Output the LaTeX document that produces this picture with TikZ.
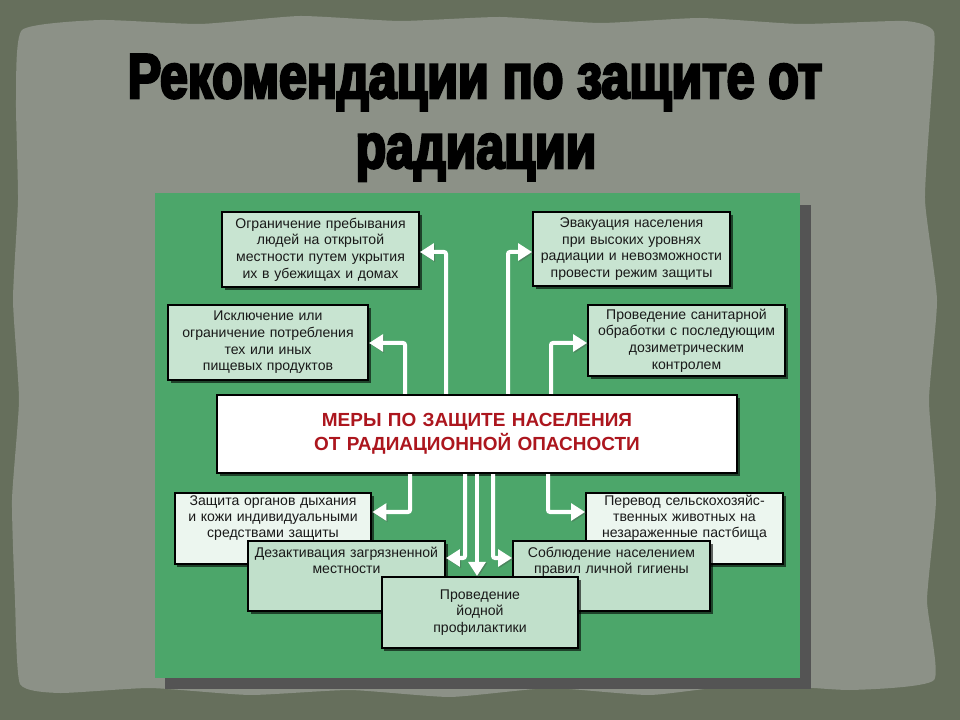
\documentclass[tikz,border=0pt]{standalone}
\usepackage{fontspec}
\setmainfont{Liberation Sans}
\newfontfamily\titlefont{Liberation Sans}[UprightFont=* Bold, FakeStretch=0.79, FakeBold=4]
\usepackage{tikz}
\usetikzlibrary{arrows.meta,shadows}
\usetikzlibrary{positioning}

\definecolor{outerbg}{RGB}{102,111,92}
\definecolor{paper}{RGB}{140,145,135}
\definecolor{panel}{RGB}{76,166,106}
\definecolor{panelshadow}{RGB}{84,84,84}
\definecolor{boxmid}{RGB}{200,228,209}
\definecolor{boxpale}{RGB}{236,246,239}
\definecolor{boxlow}{RGB}{193,224,203}
\definecolor{redtext}{RGB}{172,22,30}

\begin{document}
\begin{tikzpicture}[x=0.025cm, y=-0.025cm,
  box/.style={draw=black, line width=0.05cm, fill=boxmid, align=center,
    inner sep=0.1cm, text width=4.72cm, minimum width=4.92cm,
    font=\fontsize{10}{11.8}\selectfont, text=black!90,
    drop shadow={shadow xshift=0.07cm, shadow yshift=-0.07cm, fill=black, opacity=0.6}},
  toptext/.style 2 args={text height=#1, text depth=#2},
  conn/.style={draw=white, line width=0.1cm, rounded corners=0.05cm,
    -{Triangle[length=0.35cm, width=0.42cm]},
    preaction={draw=black!70, opacity=0.35, transform canvas={shift={(0.03cm,-0.03cm)}}}}
]
  \useasboundingbox (0,0) rectangle (960,720);
  % Background and torn paper
  \fill[outerbg] (0,0) rectangle (960,720);
  \fill[paper] plot[smooth cycle, tension=0.3] coordinates {
    (22,30) (100,20) (200,24) (300,16) (400,21) (500,17) (600,23) (700,18)
    (800,24) (905,21) (934,32) (931,100) (925,200) (937,300) (929,400)
    (936,500) (927,600) (934,680) (850,690) (750,684) (650,695) (550,688)
    (450,697) (350,690) (250,695) (150,688) (60,693) (20,684) (15,600)
    (12,500) (19,400) (13,300) (18,200) (16,100)};

  % Title
  \node[font=\titlefont\fontsize{45}{46}\selectfont, anchor=base] (title1) at (475,98) {Рекомендации по защите от};
  \node[font=\titlefont\fontsize{45}{46}\selectfont, anchor=base] (title2) at (476,168) {радиации};

  % Green panel
  \fill[panelshadow] (165,205) rectangle (811,689);
  \fill[panel] (155,193) rectangle (800,678);

  % Upper boxes
  \node[box, minimum height=1.875cm] (ogr) at (320.5,249.5)
    {Ограничение пребывания\\людей на открытой\\местности путем укрытия\\их в убежищах и домах};
  \node[box, minimum height=1.875cm, text width=4.8cm, minimum width=5cm] (isk) at (268,342.5)
    {Исключение или\\ограничение потребления\\тех или иных\\пищевых продуктов};
  \node[box, minimum height=1.85cm] (evak) at (631.5,249)
    {Эвакуация населения\\при высоких уровнях\\радиации и невозможности\\провести режим защиты};
  \node[box, minimum height=1.78cm] (sanit) at (686.5,340.5)
    {Проведение санитарной\\обработки с последующим\\дозиметрическим\\контролем};

  % Central box
  \node[box, fill=white, text width=12.8cm, minimum width=13cm, minimum height=1.95cm,
    font=\bfseries\fontsize{13.5}{17}\selectfont, text=redtext] (mery) at (477,434)
    {МЕРЫ ПО ЗАЩИТЕ НАСЕЛЕНИЯ\\ОТ РАДИАЦИОННОЙ ОПАСНОСТИ};

  % Lower boxes, back to front
  \node[box, fill=boxpale, toptext={0.22cm}{1.355cm}, anchor=north,
    font=\fontsize{10}{11.1}\selectfont] (zashch) at (273,492)
    {Защита органов дыхания\\и кожи индивидуальными\\средствами защиты};
  \node[box, fill=boxpale, toptext={0.22cm}{1.355cm}, anchor=north,
    font=\fontsize{10}{11.1}\selectfont] (perevod) at (684.5,492)
    {Перевод сельскохозяйс-\\твенных животных на\\незараженные пастбища};
  \node[box, fill=boxlow, toptext={0.3cm}{1.25cm}, anchor=north] (dezakt) at (346.5,540)
    {Дезактивация загрязненной\\местности};
  \node[box, fill=boxlow, toptext={0.3cm}{1.25cm}, anchor=north] (gigiena) at (611.5,540)
    {Соблюдение населением\\правил личной гигиены};
  \node[box, fill=boxlow, minimum height=1.775cm] (iod) at (480,612.5)
    {Проведение\\йодной\\профилактики};

  % Connectors
  \draw[conn] (mery.north -| 446,0) |- (ogr.east |- 0,252);
  \draw[conn] (mery.north -| 405,0) |- (isk.east |- 0,343);
  \draw[conn] (mery.north -| 508,0) |- (evak.west |- 0,252);
  \draw[conn] (mery.north -| 551,0) |- (sanit.west |- 0,343);
  \draw[conn] (mery.south -| 410,0) |- (zashch.east |- 0,512);
  \draw[conn] (mery.south -| 548,0) |- (perevod.west |- 0,512);
  \draw[conn] (mery.south -| 465,0) |- (dezakt.east |- 0,558);
  \draw[conn] (mery.south -| 477,0) -- (iod.north -| 477,0);
  \draw[conn] (mery.south -| 493,0) |- (gigiena.west |- 0,558);
\end{tikzpicture}
\end{document}
